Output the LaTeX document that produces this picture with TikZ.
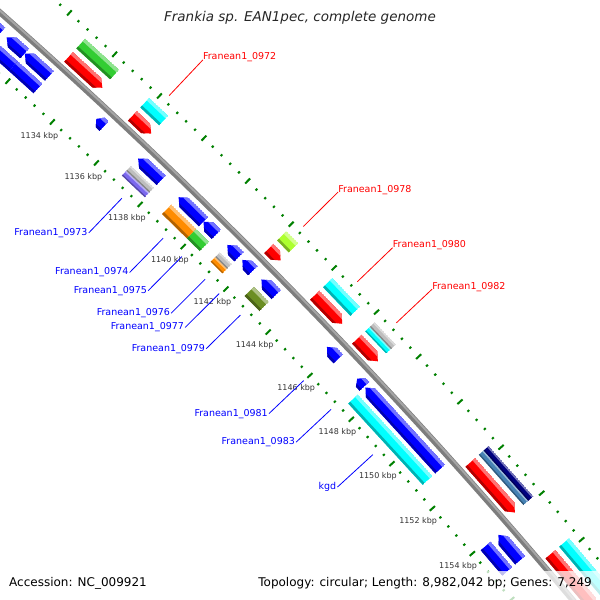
\documentclass[tikz,border=0pt]{standalone}
\usepackage{fontspec}
\setmainfont{DejaVu Sans}
\definecolor{cogred}{RGB}{255,0,0}
\definecolor{coggreen}{RGB}{50,205,50}
\definecolor{cogcyan}{RGB}{0,255,255}
\definecolor{coglime}{RGB}{173,255,47}
\definecolor{coggray}{RGB}{190,190,190}
\definecolor{cogsteel}{RGB}{70,130,180}
\definecolor{cognavy}{RGB}{0,0,128}
\definecolor{cogblue}{RGB}{0,0,255}
\definecolor{cogpurple}{RGB}{123,104,238}
\definecolor{cogorange}{RGB}{255,140,0}
\definecolor{cogolive}{RGB}{107,142,35}
\definecolor{tickgreen}{RGB}{0,128,0}
\tikzset{
    backbone/.style={draw={rgb,255:red,125;green,125;blue,125}, line width=6pt}, % 主干
    backbonelight/.style={draw={rgb,255:red,165;green,165;blue,165}, line width=2pt},
    minortick/.style={draw=tickgreen, line width=2pt}, % 刻度
    majortick/.style={draw=tickgreen, line width=2pt},
    kbplabel/.style={font=\fontsize{8}{8}\selectfont, text=black!80, inner sep=0pt},
    fwdname/.style={font=\fontsize{9.5}{10}\selectfont, text=cogred, anchor=base west, inner sep=0pt},
    revname/.style={font=\fontsize{9.5}{10}\selectfont, text=cogblue, anchor=east, inner sep=1pt},
    fwdlead/.style={draw=cogred, line width=0.8pt},
    revlead/.style={draw=cogblue, line width=0.8pt}
}
% kbp -> angle on the map
\newcommand{\kang}[1]{-46.72+0.315*(#1-1136)}
% #1 start, #2 end, #3 radius, #4 width, #5 colour, #6 0 bar / 1 forward / 2 reverse
\newcommand{\gene}[6]{%
  \pgfmathsetmacro{\ga}{\kang{#1}}%
  \pgfmathsetmacro{\gb}{\kang{#2}}%
  \pgfmathsetmacro{\gh}{0.315*min(0.25,(#2-#1)/2)}%
  \pgfmathsetmacro{\gc}{\gb-\gh}%
  \pgfmathsetmacro{\gd}{\ga+\gh}%
  \pgfmathsetmacro{\ri}{#3-#4/2}%
  \pgfmathsetmacro{\ro}{#3+#4/2}%
  \pgfmathsetmacro{\rl}{\ro-0.27*#4}%
  \pgfmathsetmacro{\rd}{\ri+0.2*#4}%
  \ifcase#6
    \coordinate (g1) at (\ga:\ri); \coordinate (g2) at (\gb:\ri);
    \coordinate (g3) at (\gb:#3); \coordinate (g4) at (\gb:\ro);
    \coordinate (g5) at (\ga:\ro);
  \or
    \coordinate (g1) at (\ga:\ri); \coordinate (g2) at (\gc:\ri);
    \coordinate (g3) at (\gb:#3); \coordinate (g4) at (\gc:\ro);
    \coordinate (g5) at (\ga:\ro);
  \or
    \coordinate (g1) at (\gb:\ro); \coordinate (g2) at (\gd:\ro);
    \coordinate (g3) at (\ga:#3); \coordinate (g4) at (\gd:\ri);
    \coordinate (g5) at (\gb:\ri);
  \fi
  \begin{scope}
    \clip (g1) -- (g2) -- (g3) -- (g4) -- (g5) -- cycle;
    \fill[#5] (\ga:\ri) -- (\gb:\ri) -- (\gb:\ro) -- (\ga:\ro) -- cycle;
    \fill[#5!55!white] (\ga:\rl) -- (\gb:\rl) -- (\gb:\ro) -- (\ga:\ro) -- cycle;
    \fill[#5!70!black] (\ga:\ri) -- (\gb:\ri) -- (\gb:\rd) -- (\ga:\rd) -- cycle;
  \end{scope}
}

\begin{document}
\begin{tikzpicture}[x=1pt, y=-1pt]
  \useasboundingbox (0,0) rectangle (600,600);
  \clip (0,0) rectangle (600,600);

  \begin{scope}[shift={(-3661,4153)}]
    % backbone
    \draw[backbone] (-50:5527) arc[start angle=-50, end angle=-38, radius=5527];
    \draw[backbonelight] (-50:5528.3) arc[start angle=-50, end angle=-38, radius=5528.3];

    % forward strand
    \foreach \ks/\ke in {1132.95/1134.45, 1135.8/1136.65, 1142.05/1142.6, 1144.2/1145.5,
                         1146.2/1147.2, 1151.7/1153.9, 1155.7/1158}
      {\gene{\ks}{\ke}{5540}{13}{cogred}{1}}
    \foreach \ks/\ke/\cc in {1132.95/1134.45/coggreen, 1135.8/1136.65/cogcyan,
                             1142.05/1142.6/coglime, 1144.2/1145.5/cogcyan, 1155.7/1158/cogcyan}
      {\gene{\ks}{\ke}{5558}{13}{\cc}{0}}
    \gene{1146.2}{1147.2}{5554.75}{6.5}{cogcyan}{0}
    \gene{1146.2}{1147.2}{5561.25}{6.5}{coggray}{0}
    \gene{1151.7}{1153.9}{5554.75}{6.5}{cogsteel}{0}
    \gene{1151.7}{1153.9}{5561.25}{6.5}{cognavy}{0}

    % reverse strand
    \foreach \ks/\ke in {1129.9/1130.75, 1131.0/1131.8, 1131.8/1132.9, 1135.0/1135.35,
                         1136.9/1137.95, 1138.75/1139.9, 1139.9/1140.5, 1141.0/1141.55,
                         1141.7/1142.2, 1142.6/1143.3, 1145.7/1146.25, 1147.15/1147.5,
                         1147.55/1151.2, 1154.1/1155.2}
      {\gene{\ks}{\ke}{5513}{13}{cogblue}{2}}
    \foreach \ks/\ke/\cc in {1131.0/1131.8/cogblue, 1131.8/1132.9/cogblue,
                             1138.75/1139.9/cogorange, 1139.9/1140.5/coggreen,
                             1142.6/1143.3/cogolive, 1147.55/1151.2/cogcyan, 1154.1/1155.2/cogblue}
      {\gene{\ks}{\ke}{5496}{13}{\cc}{0}}
    \gene{1136.9}{1137.95}{5492.75}{6.5}{cogpurple}{0}
    \gene{1136.9}{1137.95}{5499.25}{6.5}{coggray}{0}
    \gene{1141.0}{1141.55}{5492.75}{6.5}{cogorange}{0}
    \gene{1141.0}{1141.55}{5499.25}{6.5}{coggray}{0}

    % ticks
    \foreach \i in {0,...,80} {
      \pgfmathsetmacro{\ta}{\kang{(1128+0.4*\i)}}
      \pgfmathtruncatemacro{\tm}{mod(\i,5)}
      \ifnum\tm=0
        \draw[majortick] (\ta:5569.5) -- (\ta:5576.5);
        \draw[majortick] (\ta:5477.5) -- (\ta:5484.5);
      \else
        \draw[minortick] (\ta:5571.8) -- (\ta:5574.2);
        \draw[minortick] (\ta:5479.8) -- (\ta:5482.2);
      \fi
    }
    \foreach \k in {1134,1136,...,1154} {
      \pgfmathsetmacro{\ta}{\kang{\k}}
      \node[kbplabel] (t\k) at (\ta:5462) {\k\ kbp};
    }

    % gene names
    \foreach \km/\nm/\txt in {1136.22/f0972/Franean1\_0972, 1142.33/f0978/Franean1\_0978,
                              1144.85/f0980/Franean1\_0980, 1146.7/f0982/Franean1\_0982} {
      \pgfmathsetmacro{\la}{\kang{\km}}
      \coordinate (\nm-lead) at (\la:5580);
      \node[fwdname] (\nm) at (\la:5629) {\txt};
      \draw[fwdlead] (\nm-lead) -- (\nm.base west);
    }
    \foreach \km/\nm/\txt in {1137.42/r0973/Franean1\_0973, 1139.33/r0974/Franean1\_0974,
                              1140.2/r0975/Franean1\_0975, 1141.28/r0976/Franean1\_0976,
                              1141.95/r0977/Franean1\_0977, 1142.95/r0979/Franean1\_0979,
                              1145.98/r0981/Franean1\_0981, 1147.3/r0983/Franean1\_0983,
                              1149.35/rkgd/kgd} {
      \pgfmathsetmacro{\la}{\kang{\km}}
      \coordinate (\nm-lead) at (\la:5473);
      \node[revname] (\nm) at (\la:5425) {\txt};
      \draw[revlead] (\nm-lead) -- (\nm.east);
    }
  \end{scope}

  % title and footer
  \node[font=\itshape\fontsize{13.5}{14}\selectfont, text=black!85] (title) at (300,18)
    {Frankia sp. EAN1pec, complete genome};
  \fill[white, opacity=0.75] (0,571) rectangle (600,600);
  \node[font=\fontsize{12}{13}\selectfont, anchor=base west, inner sep=0pt] (acc) at (9,586)
    {Accession: NC\_009921};
  \node[font=\fontsize{12}{13}\selectfont, anchor=base east, inner sep=0pt] (topo) at (592,586)
    {Topology: circular; Length: 8,982,042 bp; Genes: 7,249};
\end{tikzpicture}
\end{document}
